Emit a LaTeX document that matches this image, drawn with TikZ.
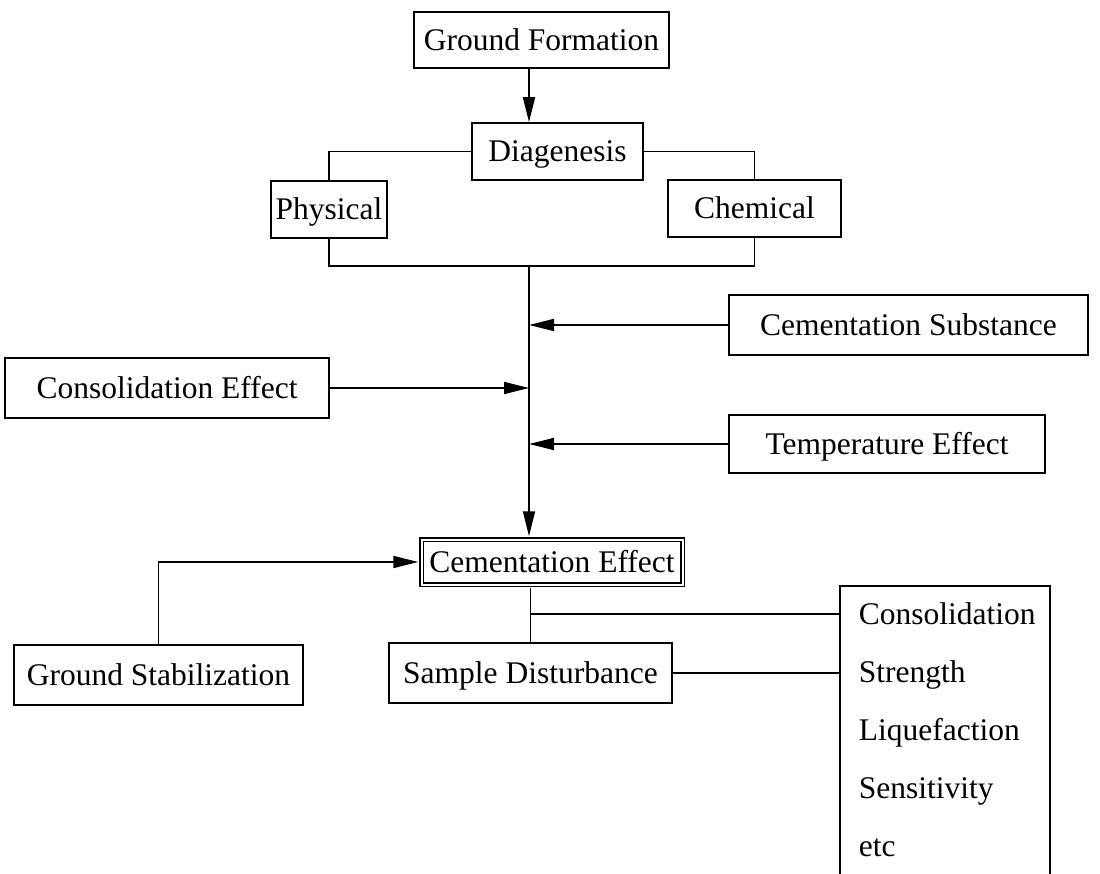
\documentclass[tikz,border=0pt]{standalone}
\usepackage{fontspec}
\setmainfont{Liberation Serif}
\usetikzlibrary{arrows.meta}

\begin{document}
\begin{tikzpicture}[x=1pt, y=-1pt, line width=1.8pt]
    \tikzstyle{every node}=[font=\fontsize{31.5}{38}\selectfont, inner sep=0pt, text height=21pt, text depth=0pt]
    \tikzstyle{box}=[draw, minimum height=57pt]
    \tikzstyle{arr}=[-{Triangle[length=25pt,width=12pt]}]
    \useasboundingbox (0,0) rectangle (1100,874);
    % diagenesis part
    \node[box, minimum width=255pt, minimum height=56pt] (gf) at (541.5,40) {Ground Formation};
    \node[box, minimum width=171pt] (dia) at (557.5,151.5) {Diagenesis};
    \node[box, minimum width=116pt] (phy) at (329,209.5) {Physical};
    \node[box, minimum width=173pt] (che) at (754.5,208.5) {Chemical};
    \coordinate (merge) at (529,266);
    % effects on the main line
    \node[box, minimum width=359pt, minimum height=60pt] (cs) at (908.5,325) {Cementation Substance};
    \node[box, minimum width=324pt, minimum height=60pt] (cons) at (167,388) {Consolidation Effect};
    \node[box, minimum width=316pt, minimum height=58pt] (temp) at (887,444) {Temperature Effect};
    % cementation effect and what it acts on
    \node[box, double, line width=1.5pt, double distance=2pt, minimum width=261pt, minimum height=45pt] (ce) at (552,562) {Cementation Effect};
    \node[box, minimum width=289pt, minimum height=60pt] (gs) at (158.5,675) {Ground Stabilization};
    \node[box, minimum width=283pt, minimum height=60pt] (sd) at (530.5,673) {Sample Disturbance};
    \node[box, anchor=north west, minimum width=210pt, minimum height=305pt] (list) at (839,585) {};
    \foreach \word [count=\i] in {Consolidation, Strength, Liquefaction, Sensitivity, etc}
        \node[anchor=west] (row\i) at (858, 556+58*\i) {\word};
    \coordinate (branch) at (530.5,614);

    \draw[arr] (merge |- gf.south) -- (merge |- dia.north);
    \draw (dia.west) -| (phy.north);
    \draw (dia.east) -| (che.north);
    \draw (phy.south) |- (merge) -| (che.south);
    \draw[arr, shorten >=2.5pt] (merge) -- (merge |- ce.north);
    \draw[arr] (cs.west) -- (merge |- cs.west);
    \draw[arr] (cons.east) -- (merge |- cons.east);
    \draw[arr] (temp.west) -- (merge |- temp.west);
    \draw[arr, shorten >=2.5pt] (gs.north) |- (ce.west);
    \draw[shorten >=2.5pt] (sd.north) -- (sd.north |- ce.south);
    \draw (branch) -- (branch -| list.west);
    \draw (sd.east) -- (sd.east -| list.west);
\end{tikzpicture}
\end{document}
